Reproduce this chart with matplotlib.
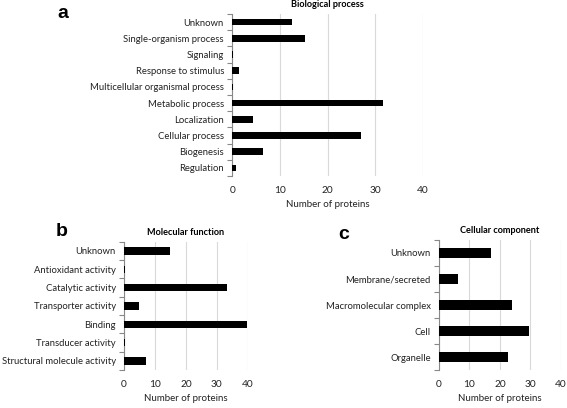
import matplotlib.pyplot as plt

plt.rcParams['font.family'] = ['Lato', 'DejaVu Sans']

# Biological process (top to bottom)
bp_labels = ['Unknown', 'Single-organism process', 'Signaling', 'Response to stimulus',
             'Multicellular organismal process', 'Metabolic process', 'Localization',
             'Cellular process', 'Biogenesis', 'Regulation']
bp_values = [12.5, 15.2, 0.25, 1.4, 0.25, 31.7, 4.4, 26.9, 6.5, 0.85]

# Molecular function
mf_labels = ['Unknown', 'Antioxidant activity', 'Catalytic activity', 'Transporter activity',
             'Binding', 'Transducer activity', 'Structural molecule activity']
mf_values = [15.0, 0.3, 33.2, 4.95, 39.8, 0.3, 7.2]

# Cellular component
cc_labels = ['Unknown', 'Membrane/secreted', 'Macromolecular complex', 'Cell', 'Organelle']
cc_values = [17.2, 6.35, 24.1, 29.7, 22.8]

xticks = [0, 10, 20, 30, 40]

fig = plt.figure(figsize=(5.67, 4.08), dpi=100)


def panel(rect, labels, values, title, letter, letter_xy, fs=6.8):
    ax = fig.add_axes(rect)
    n = len(labels)
    pos = list(range(n))
    ax.barh(pos, values, height=0.4, color='black', zorder=3)
    ax.set_ylim(n - 0.5, -0.5)
    ax.set_xlim(0, 40)
    ax.set_yticks(pos)
    ax.set_yticklabels(labels, fontsize=fs, color='#222222')
    ax.set_yticks([i - 0.5 for i in range(n + 1)], minor=True)
    ax.tick_params(axis='y', which='major', length=0, pad=6)
    ax.tick_params(axis='y', which='minor', length=3.5, color='#888888', width=0.8)
    ax.set_xticks(xticks)
    ax.tick_params(axis='x', length=0, pad=7, labelsize=fs + 0.5, labelcolor='#222222')
    ax.grid(axis='x', color='#d9d9d9', linewidth=0.8, zorder=0)
    for s in ['top', 'right', 'bottom']:
        ax.spines[s].set_visible(False)
    ax.spines['left'].set_color('#888888')
    ax.spines['left'].set_linewidth(0.8)
    ax.spines['left'].set_zorder(2)
    ax.set_title(title, fontsize=6.6, fontweight='bold', pad=5)
    ax.set_xlabel('Number of proteins', fontsize=fs + 0.2, color='#222222', labelpad=4)
    fig.text(letter_xy[0] / 567, 1 - letter_xy[1] / 408, letter, fontsize=14,
             fontweight='bold', family='Liberation Sans', ha='center', va='center')
    return ax


panel([0.4097, 0.5686, 0.3363, 0.397], bp_labels, bp_values, 'Biological process', 'a', (63, 14))
panel([0.2187, 0.0931, 0.2182, 0.3145], mf_labels, mf_values, 'Molecular function', 'b', (62, 231))
panel([0.7743, 0.0931, 0.2146, 0.3187], cc_labels, cc_values, 'Cellular component', 'c', (344, 235))

fig.savefig('out.png', dpi=100)
